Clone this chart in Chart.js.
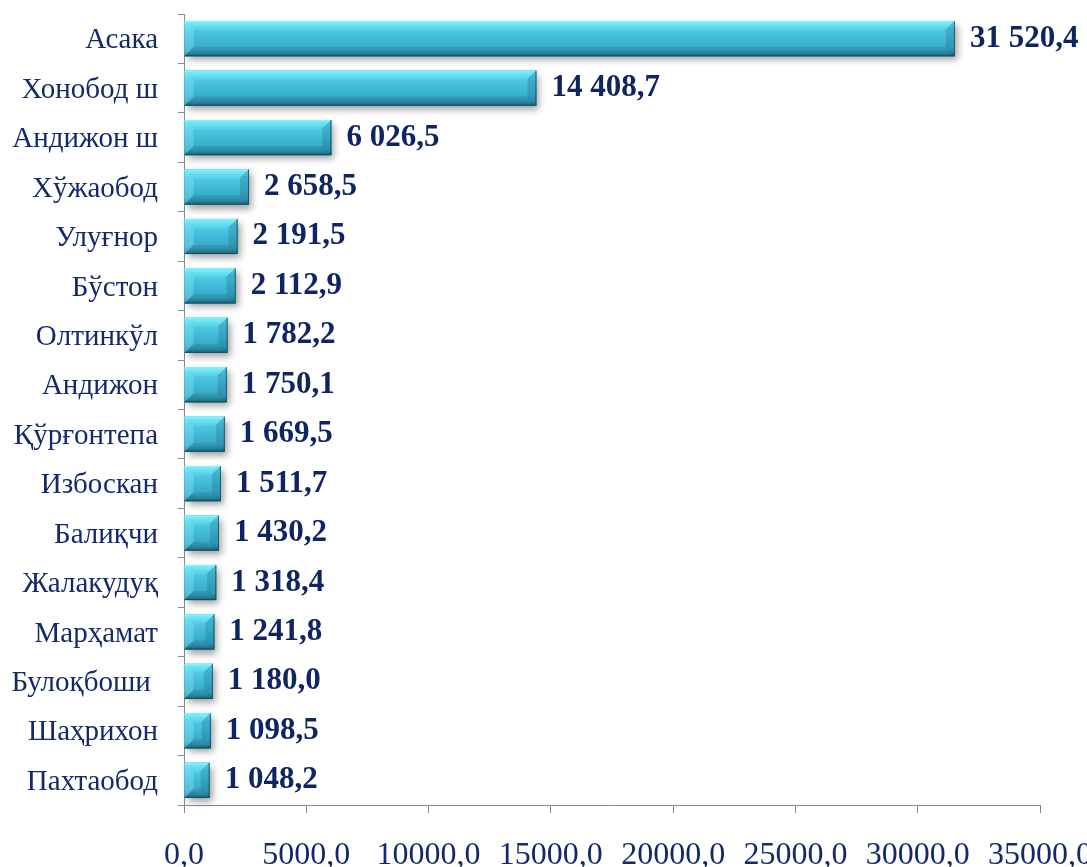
<!DOCTYPE html>
<html>
<head>
<meta charset="utf-8">
<script src="https://cdn.jsdelivr.net/npm/chart.js@4/dist/chart.umd.min.js"></script>
<style>
  html, body { margin: 0; padding: 0; background: #ffffff; overflow: hidden; }
  #wrap { width: 1087px; height: 867px; overflow: hidden; position: relative; }
  canvas { display: block; }
</style>
</head>
<body>
<div id="wrap"><canvas id="c" width="1140" height="867"></canvas></div>
<script>
const categories = ['Асака','Хонобод ш','Андижон ш','Хўжаобод','Улуғнор','Бўстон','Олтинкўл','Андижон','Қўрғонтепа','Избоскан','Балиқчи','Жалакудуқ','Марҳамат','Булоқбоши ','Шаҳрихон','Пахтаобод'];
const values = [31520.4,14408.7,6026.5,2658.5,2191.5,2112.9,1782.2,1750.1,1669.5,1511.7,1430.2,1318.4,1241.8,1180.0,1098.5,1048.2];
const xTickValues = [0,5000,10000,15000,20000,25000,30000,35000];

function fmtValue(v) {
  const parts = v.toFixed(1).split('.');
  const intPart = parts[0].replace(/\B(?=(\d{3})+(?!\d))/g, ' ');
  return intPart + ',' + parts[1];
}
function fmtTick(v) { return Number(v).toFixed(1).replace('.', ','); }

function barRect(el) {
  const p = el.getProps(['x','y','base','height'], true);
  const left = Math.min(p.base, p.x), right = Math.max(p.base, p.x);
  return { left, right, top: p.y - p.height / 2, bottom: p.y + p.height / 2, cy: p.y };
}

function poly(ctx, pts, fill) {
  ctx.fillStyle = fill;
  ctx.beginPath();
  ctx.moveTo(pts[0][0], pts[0][1]);
  for (let k = 1; k < pts.length; k++) ctx.lineTo(pts[k][0], pts[k][1]);
  ctx.closePath();
  ctx.fill();
}

const bevelPlugin = {
  id: 'bevel',
  beforeDatasetsDraw(chart) {
    const ctx = chart.ctx;
    chart.getDatasetMeta(0).data.forEach(el => {
      const r = barRect(el);
      ctx.save();
      ctx.shadowColor = 'rgba(0,0,0,0.38)';
      ctx.shadowBlur = 7;
      ctx.shadowOffsetX = 3;
      ctx.shadowOffsetY = 4;
      ctx.fillStyle = '#2a8fa8';
      ctx.fillRect(r.left, r.top, r.right - r.left, r.bottom - r.top);
      ctx.restore();
    });
  },
  afterDatasetsDraw(chart) {
    const ctx = chart.ctx;
    chart.getDatasetMeta(0).data.forEach((el, i) => {
      const r = barRect(el);
      const w = r.right - r.left, h = r.bottom - r.top;
      ctx.save();
      const g = ctx.createLinearGradient(0, r.top, 0, r.bottom);
      g.addColorStop(0, '#7af3ff');
      g.addColorStop(0.07, '#66e4f6');
      g.addColorStop(0.2, '#4fcde6');
      g.addColorStop(0.5, '#41bad7');
      g.addColorStop(0.8, '#37a8c6');
      g.addColorStop(0.9, '#2e91ab');
      g.addColorStop(1, '#1f6575');
      ctx.fillStyle = g;
      ctx.fillRect(r.left, r.top, w, h);
      const bx = Math.min(9, w / 2), by = Math.min(9, h / 2);
      const L = r.left, R = r.right, T = r.top, B = r.bottom;
      poly(ctx, [[L, T], [R, T], [R - bx, T + by], [L + bx, T + by]], 'rgba(190,255,255,0.14)');
      poly(ctx, [[L, T], [L + bx, T + by], [L + bx, B - by], [L, B]], 'rgba(170,250,255,0.28)');
      poly(ctx, [[R, T], [R - bx, T + by], [R - bx, B - by], [R, B]], 'rgba(10,70,95,0.2)');
      poly(ctx, [[L, B], [R, B], [R - bx, B - by], [L + bx, B - by]], 'rgba(10,60,80,0.14)');
      ctx.strokeStyle = 'rgba(20,90,110,0.25)';
      ctx.lineWidth = 1;
      ctx.beginPath();
      ctx.moveTo(R, T); ctx.lineTo(R - bx, T + by);
      ctx.moveTo(R, B); ctx.lineTo(R - bx, B - by);
      ctx.stroke();
      ctx.strokeStyle = 'rgba(130,245,255,0.9)';
      ctx.beginPath(); ctx.moveTo(L, T + 0.5); ctx.lineTo(R, T + 0.5); ctx.stroke();
      ctx.strokeStyle = 'rgba(20,70,85,0.75)';
      ctx.beginPath(); ctx.moveTo(L, B - 0.5); ctx.lineTo(R - 0.5, B - 0.5); ctx.lineTo(R - 0.5, T); ctx.stroke();
      ctx.restore();

      ctx.save();
      ctx.font = 'bold 31px "Liberation Serif", "Times New Roman", serif';
      ctx.fillStyle = '#0f2462';
      ctx.textAlign = 'left';
      ctx.textBaseline = 'middle';
      ctx.fillText(fmtValue(values[i]), R + 15, r.cy);
      ctx.restore();
    });
  }
};

new Chart(document.getElementById('c'), {
  type: 'bar',
  data: {
    labels: categories,
    datasets: [{
      data: values,
      backgroundColor: '#3ab4cf',
      borderWidth: 0,
      categoryPercentage: 1.0,
      barPercentage: 0.71
    }]
  },
  options: {
    indexAxis: 'y',
    responsive: false,
    animation: false,
    devicePixelRatio: 1,
    layout: { padding: { top: 14, right: 100, bottom: 0, left: 0 } },
    plugins: { legend: { display: false }, tooltip: { enabled: false }, title: { display: false } },
    scales: {
      x: {
        type: 'linear',
        min: 0, max: 35000,
        afterBuildTicks(scale) { scale.ticks = xTickValues.map(v => ({ value: v })); },
        afterFit(scale) { scale.height = 62; scale.paddingLeft = 0; scale.paddingRight = 0; },
        grid: { drawOnChartArea: false, drawTicks: true, tickLength: 8, color: '#8a8a8a' },
        border: { color: '#8a8a8a', width: 1 },
        ticks: {
          callback: v => fmtTick(v),
          padding: 23,
          maxRotation: 0,
          autoSkip: false,
          color: '#13296b',
          font: { family: '"Liberation Serif", "Times New Roman", serif', size: 32 }
        }
      },
      y: {
        afterFit(scale) { scale.width = 184; scale.paddingTop = 0; scale.paddingBottom = 0; },
        grid: { drawOnChartArea: false, drawTicks: true, tickLength: 6, offset: true, color: '#8a8a8a' },
        border: { color: '#8a8a8a', width: 1 },
        ticks: {
          padding: 20,
          labelOffset: 2,
          autoSkip: false,
          color: '#13296b',
          font: { family: '"Liberation Serif", "Times New Roman", serif', size: 29 }
        }
      }
    }
  },
  plugins: [bevelPlugin]
});
</script>
</body>
</html>
